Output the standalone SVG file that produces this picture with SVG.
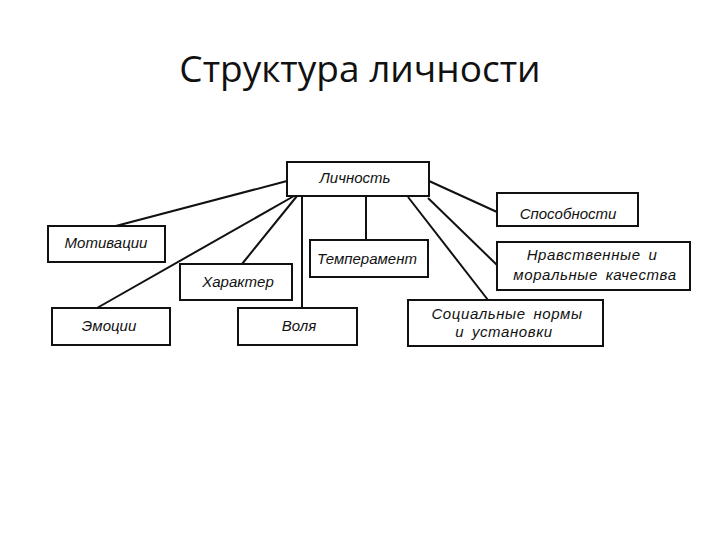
<svg xmlns="http://www.w3.org/2000/svg" width="720" height="540" viewBox="0 0 720 540">
<style>
.box{fill:#fff;stroke:#111;stroke-width:2}
.lbl{font-family:"Liberation Sans",Arial,sans-serif;font-style:italic;font-size:15px;fill:#111;text-anchor:middle}
.wide{letter-spacing:0.6px;word-spacing:3px}
.ln{stroke:#111;stroke-width:2;fill:none}
.title{font-family:"Open Sans","Noto Sans",sans-serif;font-size:37px;fill:#111;text-anchor:middle}
</style>
<rect width="720" height="540" fill="#fff"/>
<text class="title" x="360" y="82">Структура личности</text>
<g id="connectors">
<line class="ln" x1="287" y1="181" x2="112" y2="227"/>
<line class="ln" x1="294" y1="196" x2="97" y2="308"/>
<line class="ln" x1="297" y1="196" x2="242" y2="264"/>
<line class="ln" x1="302" y1="196" x2="302" y2="308"/>
<line class="ln" x1="366" y1="196" x2="366" y2="240"/>
<line class="ln" x1="408" y1="197" x2="488" y2="300"/>
<line class="ln" x1="428" y1="198" x2="497" y2="265"/>
<line class="ln" x1="429" y1="181" x2="497" y2="212"/>
</g>
<g id="lichnost"><rect class="box" x="287" y="162" width="142" height="34"/><text class="lbl" x="355" y="183">Личность</text></g>
<g id="motivatsii"><rect class="box" x="48" y="226" width="117" height="36"/><text class="lbl" x="106" y="248">Мотивации</text></g>
<g id="kharakter"><rect class="box" x="180" y="264" width="112" height="36"/><text class="lbl" x="238" y="287">Характер</text></g>
<g id="emotsii"><rect class="box" x="52" y="308" width="118" height="37"/><text class="lbl" x="109" y="331">Эмоции</text></g>
<g id="volya"><rect class="box" x="238" y="308" width="119" height="37"/><text class="lbl" x="299" y="331">Воля</text></g>
<g id="temperament"><rect class="box" x="310" y="240" width="118" height="37"/><text class="lbl" x="367" y="264">Темперамент</text></g>
<g id="sposobnosti"><rect class="box" x="497" y="193" width="141" height="33"/><text class="lbl" x="568" y="219">Способности</text></g>
<g id="nravstvennye"><rect class="box" x="497" y="242" width="193" height="48"/><text class="lbl wide" x="592" y="260">Нравственные и</text><text class="lbl wide" x="595" y="280">моральные качества</text></g>
<g id="sotsialnye"><rect class="box" x="408" y="300" width="195" height="46"/><text class="lbl wide" x="507" y="319">Социальные нормы</text><text class="lbl wide" x="504" y="337">и установки</text></g>
</svg>
